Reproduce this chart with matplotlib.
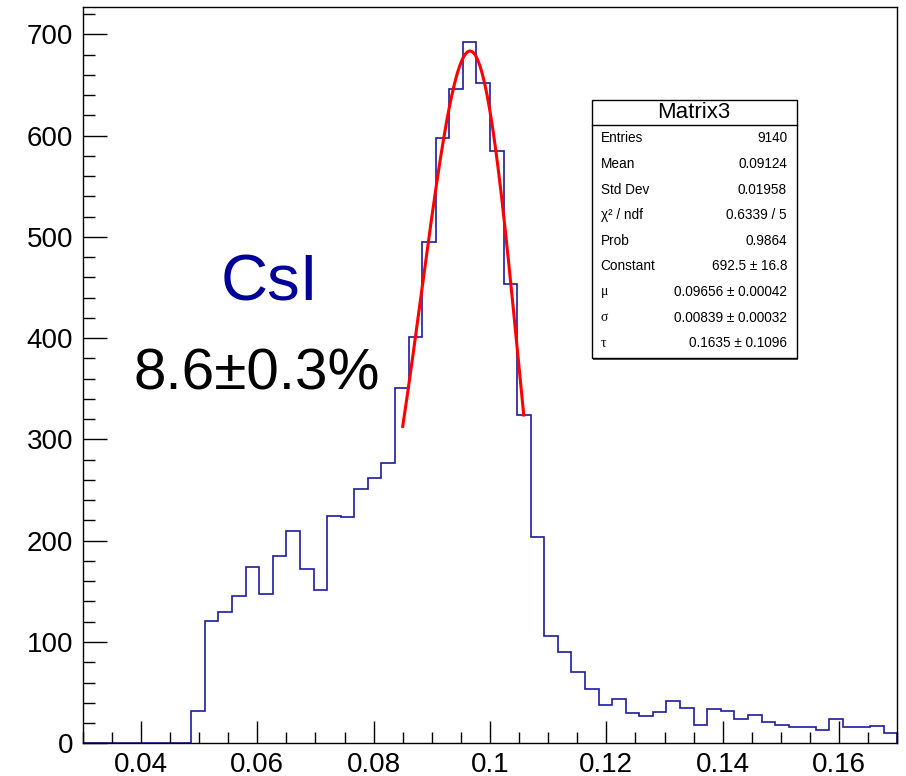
import numpy as np
import matplotlib
matplotlib.use("Agg")
import matplotlib.pyplot as plt
from matplotlib.patches import Rectangle
from matplotlib.lines import Line2D
from matplotlib.ticker import MultipleLocator, FuncFormatter

plt.rcParams["font.family"] = ["Liberation Sans", "DejaVu Sans"]

# histogram "Matrix3": 60 bins from 0.03 to 0.17
x_lo, x_hi, n_bins = 0.03, 0.17, 60
counts = [0, 0, 0, 0, 0, 0, 0, 0,
          32, 121, 130, 145, 174, 147, 185, 210, 172, 151, 224, 223, 251,
          262, 277, 351, 401, 495, 598, 646, 692, 652, 585, 453, 324, 204,
          106, 90, 70, 54, 38, 44, 30, 27, 31, 42, 35, 18, 34, 32, 24, 28,
          21, 18, 16, 16, 13, 24, 16, 16, 17, 10]

# Novosibirsk fit result shown in the stats box
fit_const, fit_mu, fit_sigma, fit_tau = 692.5, 0.09656, 0.00839, 0.1635
fit_range = (0.085, 0.1058)

stat_labels = ["Entries", "Mean", "Std Dev", "χ² / ndf", "Prob", "Constant", "μ", "σ", "τ"]
stat_values = ["9140", "0.09124", "0.01958", "0.6339 / 5", "0.9864",
               "692.5 ± 16.8", "0.09656 ± 0.00042", "0.00839 ± 0.00032", "0.1635 ± 0.1096"]

W, H = 906, 776


def novosibirsk(x, const, peak, width, tail):
    xi = 2.3548200450309494
    w0 = (2.0 / xi) * np.arcsinh(tail * xi * 0.5)
    arg = 1.0 - (x - peak) * tail / width
    lg = np.log(np.clip(arg, 1e-7, None))
    return const * np.exp(-0.5 / w0**2 * lg**2 - 0.5 * w0**2)


def fig_xy(px, py):
    return px / W, 1 - py / H


fig = plt.figure(figsize=(W / 100, H / 100), dpi=100)
ax = fig.add_axes([82.7 / W, 1 - 743.3 / H, (897.3 - 82.7) / W, (743.3 - 7.3) / H])

edges = np.linspace(x_lo, x_hi, n_bins + 1)
ax.stairs(counts, edges, color="#1c1c9c", lw=1.2, baseline=0)

xf = np.linspace(fit_range[0], fit_range[1], 300)
ax.plot(xf, novosibirsk(xf, fit_const, fit_mu, fit_sigma, fit_tau), color="#ff0000", lw=2.2)

ax.set_xlim(x_lo, x_hi)
ax.set_ylim(0, 1.05 * max(counts))
ax.xaxis.set_major_locator(MultipleLocator(0.02))
ax.xaxis.set_minor_locator(MultipleLocator(0.005))
ax.yaxis.set_major_locator(MultipleLocator(100))
ax.yaxis.set_minor_locator(MultipleLocator(20))
ax.xaxis.set_major_formatter(FuncFormatter(lambda v, p: f"{v:g}"))
ax.tick_params(which="both", direction="in", width=1, top=False, right=False, labelsize=20)
ax.tick_params(axis="y", which="major", length=17, pad=7)
ax.tick_params(axis="y", which="minor", length=8.5)
ax.tick_params(axis="x", which="major", length=16, pad=6)
ax.tick_params(axis="x", which="minor", length=8)
for s in ax.spines.values():
    s.set_linewidth(1.0)

fig.text(*fig_xy(270, 301), "CsI", color="#000099", fontsize=47, ha="center", va="baseline")
fig.text(*fig_xy(257, 389), "8.6±0.3%", color="black", fontsize=42, ha="center", va="baseline")

# stats box
bx0, by0, bx1, by1 = 591.7, 100, 796.7, 358.3
fig.patches.append(Rectangle(fig_xy(bx0 + 1.5, by1 + 1.5), (bx1 - bx0) / W, (by1 - by0) / H,
                             transform=fig.transFigure, facecolor="#555555", edgecolor="none"))
fig.patches.append(Rectangle(fig_xy(bx0, by1), (bx1 - bx0) / W, (by1 - by0) / H,
                             transform=fig.transFigure, facecolor="white", edgecolor="black", lw=1))
fig.lines.append(Line2D([bx0 / W, bx1 / W], [1 - 125 / H, 1 - 125 / H],
                        transform=fig.transFigure, color="black", lw=1))
fig.text(*fig_xy((bx0 + bx1) / 2, 113), "Matrix3", fontsize=16, ha="center", va="center")
for i, (lab, val) in enumerate(zip(stat_labels, stat_values)):
    y = 138.3 + i * 25.6
    if lab in ("μ", "σ", "τ"):
        fig.text(*fig_xy(600.7, y), lab, fontsize=9.8, ha="left", va="center",
                 family=["Liberation Serif", "DejaVu Serif"])
    else:
        fig.text(*fig_xy(600.7, y), lab, fontsize=9.8, ha="left", va="center")
    fig.text(*fig_xy(787, y), val, fontsize=9.8, ha="right", va="center")

fig.savefig("out.png", dpi=100)
